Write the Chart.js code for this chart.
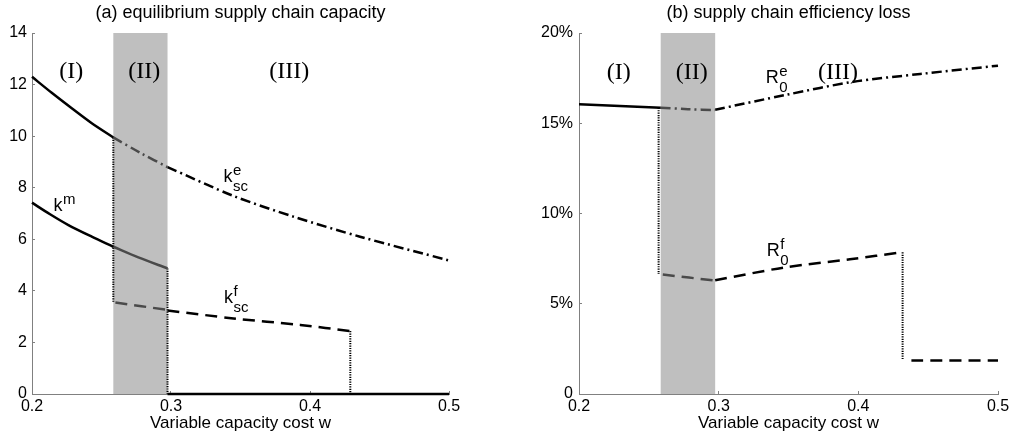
<!DOCTYPE html>
<html>
<head>
<meta charset="utf-8">
<script src="https://cdn.jsdelivr.net/npm/chart.js@4.4.1/dist/chart.umd.min.js"></script>
<style>
  body { margin: 0; background: #fff; }
  #wrap { position: relative; width: 1019px; height: 444px; background: #fff; }
  #left { position: absolute; left: 0; top: 0; }
  #right { position: absolute; left: 510px; top: 0; }
</style>
</head>
<body>
<div id="wrap">
  <canvas id="left" width="510" height="444"></canvas>
  <canvas id="right" width="509" height="444"></canvas>
</div>
<script>
// shaded region (II)
const bandW = [0.2585, 0.2975];

// (a) equilibrium supply chain capacity
const kmW1 = [0.2, 0.213, 0.2262, 0.243, 0.2585];
const kmV1 = [7.42, 6.97, 6.55, 6.10, 5.71];
const kmW2 = [0.2585, 0.2765, 0.2975];
const kmV2 = [5.71, 5.30, 4.87];
const kmW3 = [0.2975, 0.5];
const kmV3 = [0, 0];

const keW1 = [0.2, 0.2142, 0.2286, 0.243, 0.2585];
const keV1 = [12.30, 11.68, 11.08, 10.50, 9.95];
const keW2 = [0.2585, 0.278, 0.2975];
const keV2 = [9.95, 9.35, 8.80];
const keW3 = [0.2975, 0.345, 0.388, 0.436, 0.5];
const keV3 = [8.80, 7.68, 6.88, 6.10, 5.18];

const kfW2 = [0.26, 0.2975];
const kfV2 = [3.55, 3.26];
const kfW3 = [0.2975, 0.345, 0.393, 0.429];
const kfV3 = [3.24, 2.93, 2.68, 2.44];

const kDropW = [0.2585, 0.2975, 0.429];
const kDropTop = [9.95, 4.87, 2.44];
const kDropBottom = [3.55, 0, 0];

const kTicksY = [0, 2, 4, 6, 8, 10, 12, 14];

// (b) supply chain efficiency loss, in %
const reW1 = [0.2, 0.2585];
const reV1 = [16.05, 15.86];
const reW2 = [0.2585, 0.278, 0.2975];
const reV2 = [15.86, 15.78, 15.73];
const reW3 = [0.2975, 0.3487, 0.3965, 0.4443, 0.5];
const reV3 = [15.75, 16.58, 17.30, 17.73, 18.19];

const rfW2 = [0.26, 0.2975];
const rfV2 = [6.62, 6.28];
const rfW3 = [0.2975, 0.3463, 0.394, 0.4312];
const rfV3 = [6.30, 7.00, 7.46, 7.85];
const rfW4 = [0.438, 0.5];
const rfV4 = [1.85, 1.85];

const rDropW = [0.257, 0.4317];
const rDropTop = [15.86, 7.85];
const rDropBottom = [6.65, 1.88];

const rTicksY = [0, 5, 10, 15, 20];
const xTicks = [0.2, 0.3, 0.4, 0.5];

const regionNames = ['(I)', '(II)', '(III)'];

const SANS = '"Liberation Sans", Arial, Helvetica, sans-serif';
const SERIF = '"Liberation Serif", "Times New Roman", serif';
const AXIS_GREY = '#808080';
const DARK = '#4a4a4a';

Chart.defaults.font = { family: SANS, size: 16, lineHeight: 1.2 };
Chart.defaults.color = '#000';

const pts = (ws, vs) => ws.map((w, i) => ({ x: w, y: vs[i] }));

const solid = (ws, vs, color) => ({
  data: pts(ws, vs), borderColor: color, borderWidth: 2.5, tension: 0.3
});
const dashed = (ws, vs, color) => ({
  data: pts(ws, vs), borderColor: color, borderWidth: 2.5, borderDash: [12, 7], tension: 0.3
});
const dashDot = (ws, vs, color) => ({
  data: pts(ws, vs), borderColor: color, borderWidth: 2.5, borderDash: [10, 4, 2, 4], tension: 0.3
});
const drops = (ws, tops, bottoms) => ws.map((w, i) => ({
  data: [{ x: w, y: tops[i] }, { x: w, y: bottoms[i] }],
  borderColor: '#000', borderWidth: 2, borderDash: [1.2, 1.2]
}));

function drawScripted(ctx, x, y, main, sup, sub) {
  ctx.textAlign = 'left';
  ctx.textBaseline = 'alphabetic';
  ctx.font = '18px ' + SANS;
  ctx.fillText(main, x, y);
  const sx = x + ctx.measureText(main).width + 0.5;
  ctx.font = '15px ' + SANS;
  if (sup) ctx.fillText(sup, sx, y - 7);
  if (sub) ctx.fillText(sub, sx, y + 9);
}

// band + text marks, placed through the chart's own scales
function makeMarks(regionW, regionY, scripts) {
  return {
    id: 'marks',
    beforeDraw(chart) {
      const { ctx, chartArea, scales: { x } } = chart;
      const x0 = x.getPixelForValue(bandW[0]);
      const x1 = x.getPixelForValue(bandW[1]);
      ctx.save();
      ctx.fillStyle = '#bfbfbf';
      ctx.fillRect(x0, chartArea.top, x1 - x0, chartArea.bottom - chartArea.top);
      ctx.restore();
    },
    afterDatasetsDraw(chart) {
      const { ctx, scales: { x, y } } = chart;
      ctx.save();
      ctx.fillStyle = '#000';
      ctx.font = '24px ' + SERIF;
      ctx.textAlign = 'center';
      ctx.textBaseline = 'middle';
      regionNames.forEach((name, i) => {
        ctx.fillText(name, x.getPixelForValue(regionW[i]), y.getPixelForValue(regionY));
      });
      scripts.forEach(s => {
        drawScripted(ctx, x.getPixelForValue(s.w), y.getPixelForValue(s.v), s.main, s.sup, s.sub);
      });
      ctx.restore();
    }
  };
}

function axisOptions(yMax, yWidth, yPad, yLabel) {
  return {
    x: {
      type: 'linear', min: 0.2, max: 0.5,
      afterBuildTicks: (s) => { s.ticks = xTicks.map(v => ({ value: v })); },
      ticks: { padding: 6, callback: (v) => v.toFixed(1) },
      grid: { drawOnChartArea: false, tickLength: -3, color: AXIS_GREY },
      border: { color: AXIS_GREY },
      title: {
        display: true, text: 'Variable capacity cost w',
        font: { size: 17 }, padding: { top: 0, bottom: 10 }
      },
      afterFit: (s) => { s.height = 50; }
    },
    y: {
      type: 'linear', min: 0, max: yMax,
      afterBuildTicks: (s) => { s.ticks = (yMax === 14 ? kTicksY : rTicksY).map(v => ({ value: v })); },
      ticks: { padding: yPad, callback: yLabel },
      grid: { drawOnChartArea: false, tickLength: -3, color: AXIS_GREY },
      border: { color: AXIS_GREY },
      afterFit: (s) => { s.width = yWidth; }
    }
  };
}

function baseOptions(title, padRight, scales) {
  return {
    responsive: false,
    animation: false,
    devicePixelRatio: 1,
    layout: { padding: { left: 0, right: padRight, top: 0, bottom: 0 } },
    datasets: { scatter: { showLine: true, pointRadius: 0, fill: false, clip: false } },
    plugins: {
      legend: { display: false },
      tooltip: { enabled: false },
      title: {
        display: true, text: title, fullSize: false, color: '#000',
        font: { size: 18, weight: 'normal' }, padding: { top: 2, bottom: 9.4 }
      }
    },
    scales
  };
}

new Chart(document.getElementById('left'), {
  type: 'scatter',
  data: {
    datasets: [
      solid(kmW1, kmV1, '#000'),
      solid(kmW2, kmV2, DARK),
      solid(kmW3, kmV3, '#000'),
      solid(keW1, keV1, '#000'),
      dashDot(keW2, keV2, DARK),
      dashDot(keW3, keV3, '#000'),
      dashed(kfW2, kfV2, DARK),
      dashed(kfW3, kfV3, '#000'),
      ...drops(kDropW, kDropTop, kDropBottom)
    ]
  },
  options: baseOptions('(a) equilibrium supply chain capacity', 61,
    axisOptions(14, 32, 8, (v) => String(v))),
  plugins: [makeMarks([0.2283, 0.2807, 0.385], 12.49, [
    { w: 0.2155, v: 7.10, main: 'k', sup: 'm' },
    { w: 0.3377, v: 8.23, main: 'k', sup: 'e', sub: 'sc' },
    { w: 0.3382, v: 3.54, main: 'k', sup: 'f', sub: 'sc' }
  ])]
});

new Chart(document.getElementById('right'), {
  type: 'scatter',
  data: {
    datasets: [
      solid(reW1, reV1, '#000'),
      dashDot(reW2, reV2, DARK),
      dashDot(reW3, reV3, '#000'),
      dashed(rfW2, rfV2, DARK),
      dashed(rfW3, rfV3, '#000'),
      dashed(rfW4, rfV4, '#000'),
      ...drops(rDropW, rDropTop, rDropBottom)
    ]
  },
  options: baseOptions('(b) supply chain efficiency loss', 21,
    axisOptions(20, 69, 9, (v) => (v === 0 ? '0' : v + '%'))),
  plugins: [makeMarks([0.2285, 0.2808, 0.3855], 17.78, [
    { w: 0.3337, v: 17.21, main: 'R', sup: 'e', sub: '0' },
    { w: 0.3344, v: 7.65, main: 'R', sup: 'f', sub: '0' }
  ])]
});
</script>
</body>
</html>
